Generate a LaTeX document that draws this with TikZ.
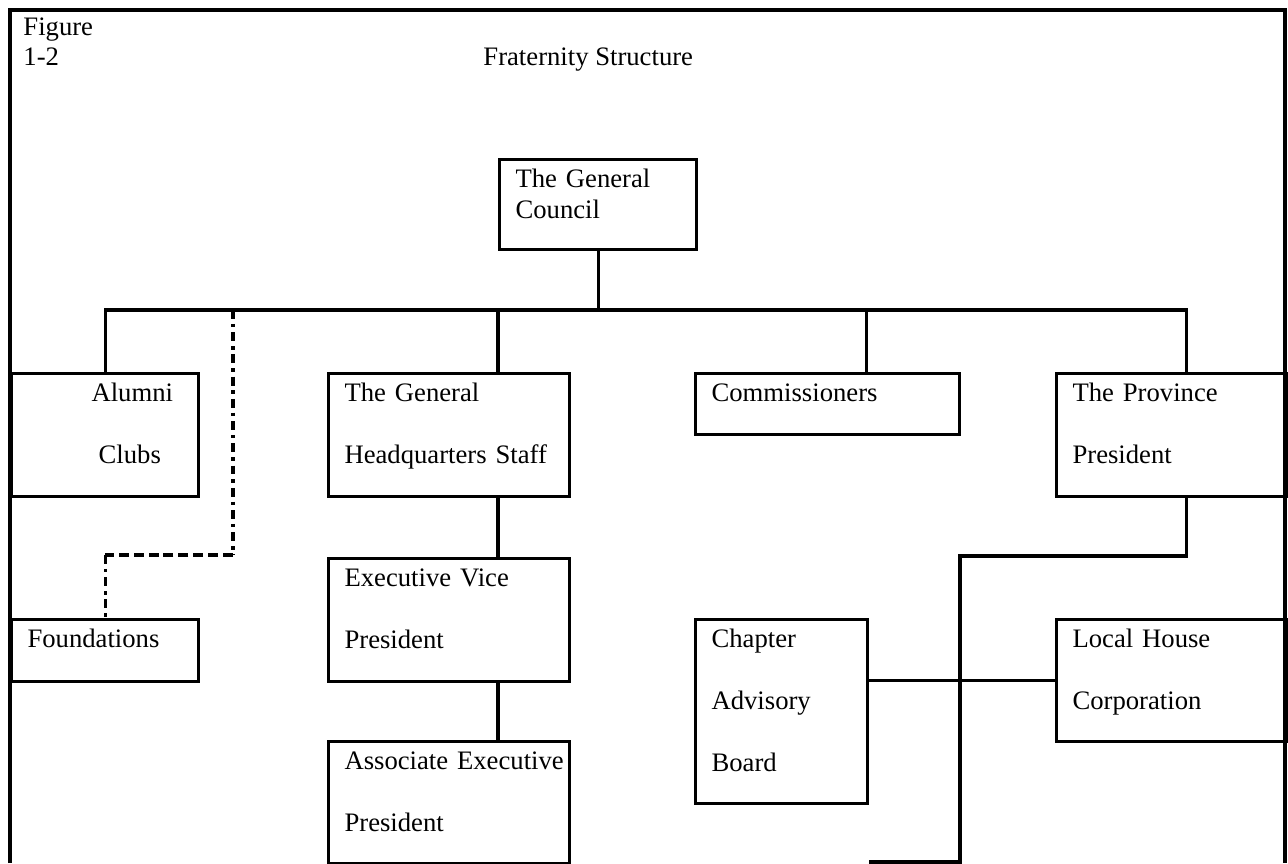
\documentclass[tikz,border=0pt]{standalone}
\usepackage{fontspec}
\setmainfont{Liberation Serif}
\usetikzlibrary{positioning}

\tikzset{
  orgbox/.style={draw, line width=1.4pt, anchor=north west, inner xsep=7.2pt, inner ysep=0pt, align=left, text height=12.6pt},
  link/.style={line width=1.4pt},
  dotlink/.style={line width=1.4pt, dash pattern=on 4pt off 2.2pt on 1.6pt off 2.2pt},
  dashlink/.style={line width=1.4pt, dash pattern=on 4.5pt off 2.2pt},
}

\begin{document}
\begin{tikzpicture}[x=0.45pt, y=-0.45pt, font=\fontsize{12}{13.8}\selectfont]
	\useasboundingbox (0,0) rectangle (1288,863);

	% Outer frame, open at the bottom.
	\draw[link] (10,863) -- (10,10) -- (1285,10) -- (1285,863);

	\node[anchor=base west, inner sep=0pt] (figlabel) at (23,35) {Figure};
	\node[anchor=base west, inner sep=0pt] (fignum) at (23,65) {1-2};
	\node[anchor=base west, inner sep=0pt] (title) at (483,65) {Fraternity Structure};

	% The boxes.
	\node[orgbox, text width=74.25pt, text depth=27.9pt] (gc) at (498,158) {\mbox{The General}\\Council};
	\node[orgbox, text width=69.75pt, text depth=42.75pt] (alumni) at (10,372)
		{\hspace*{28.8pt}Alumni\\[14pt]\hspace*{32pt}Clubs};
	\node[orgbox, text width=94.05pt, text depth=42.75pt] (ghq) at (327,372) {\mbox{The General}\\[14pt]\mbox{Headquarters Staff}};
	\node[orgbox, text width=104.4pt, text depth=14.85pt] (comm) at (694,372) {Commissioners};
	\node[orgbox, text width=89.1pt, text depth=42.75pt] (prov) at (1055,372) {\mbox{The Province}\\[14pt]President};
	\node[orgbox, text width=69.75pt, text depth=15.3pt] (found) at (10,618) {Foundations};
	\node[orgbox, text width=94.05pt, text depth=42.75pt] (evp) at (327,557) {\mbox{Executive Vice}\\[14pt]President};
	\node[orgbox, text width=94.05pt, text depth=42.3pt] (aep) at (327,740) {\mbox{Associate Executive}\\[14pt]President};
	\node[orgbox, text width=63pt, text depth=70.2pt] (cab) at (694,618) {Chapter\\[14pt]Advisory\\[14pt]Board};
	\node[orgbox, text width=89.1pt, text depth=42.3pt] (lhc) at (1055,618) {\mbox{Local House}\\[14pt]Corporation};

	% Connectors.
	\coordinate (bus) at (597,310);
	\coordinate (commtop) at ([xshift=17.5pt]comm.north);
	\coordinate (provtop) at ([xshift=6.75pt]prov.north);
	\coordinate (provbot) at ([xshift=6.75pt]prov.south);
	\draw[link] (gc.south) -- (gc.south |- bus);
	\draw[link] (alumni.north) |- (bus) -| (provtop);
	\draw[link] (ghq.north -| gc.west) -- (gc.west |- bus);
	\draw[link] (commtop) -- (commtop |- bus);

	% Dotted link down to the foundations.
	\coordinate (fturn) at (233,555);
	\draw[dotlink] (fturn |- bus) -- (fturn);
	\draw[dashlink] (fturn) -- (fturn -| found.north);
	\draw[dotlink] (fturn -| found.north) -- (found.north);

	\draw[link] (ghq.south -| gc.west) -- (evp.north -| gc.west);
	\draw[link] (evp.south -| gc.west) -- (aep.north -| gc.west);

	\coordinate (pturn) at (960,556);
	\coordinate (pend) at (960,862);
	\draw[link] (provbot) |- (pturn) -- (pend) -- (pend -| cab.east);
	\draw[link] (lhc.west) -- (lhc.west -| cab.east);
\end{tikzpicture}
\end{document}
